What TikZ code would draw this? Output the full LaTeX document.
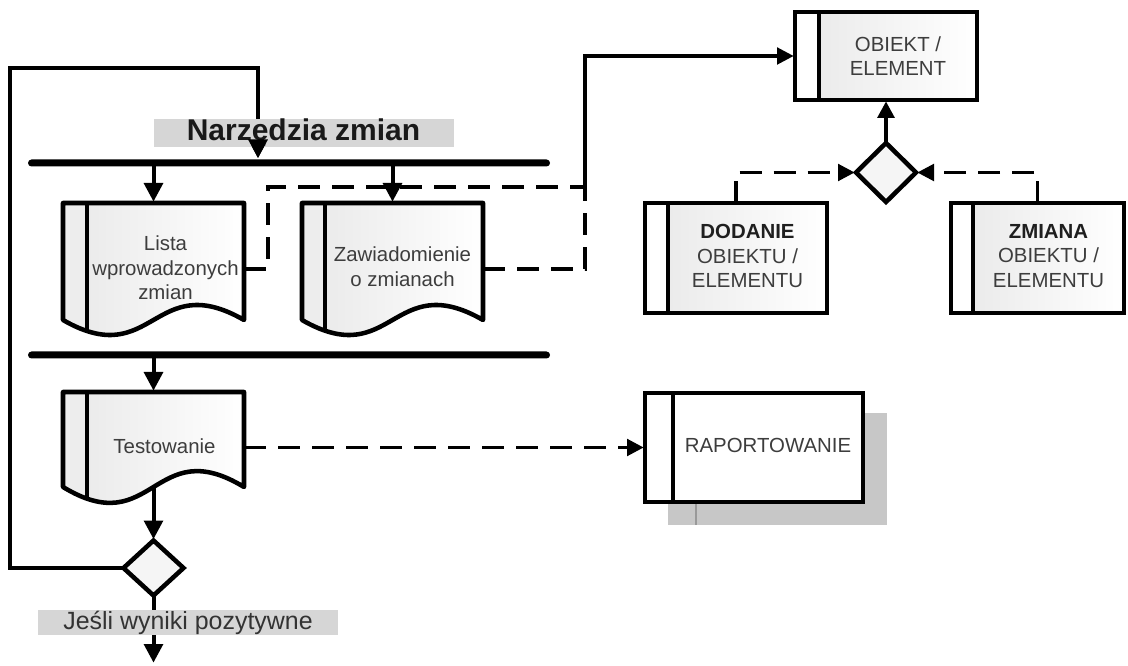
\documentclass[tikz,border=0pt]{standalone}
\usepackage{fontspec}
\setmainfont{Liberation Sans}
\usetikzlibrary{shapes.geometric,arrows.meta,calc}

% Document symbol with a wavy lower edge and a left stripe:
% #1 node, #2 midline of the wave below the top edge, #3 control offset, #4 stripe width
\newcommand\docshape[4]{%
  \begin{scope}
    \clip (#1.north west) -- (#1.north east) -- ($(#1.north east)+(0,#2)$)
      .. controls ($(#1.north)+(0,#2-#3)$) and ($(#1.north)+(0,#2+#3)$)
      .. ($(#1.north west)+(0,#2)$) -- cycle;
    \shade[left color=black!9, right color=white] (#1.north west) rectangle (#1.south east);
    \fill[black!7] (#1.north west) rectangle ($(#1.south west)+(#4,0)$);
    \draw[border] ($(#1.north west)+(#4,0)$) -- ($(#1.south west)+(#4,0)$);
  \end{scope}
  \draw[border, line join=round] (#1.north west) -- (#1.north east) -- ($(#1.north east)+(0,#2)$)
      .. controls ($(#1.north)+(0,#2-#3)$) and ($(#1.north)+(0,#2+#3)$)
      .. ($(#1.north west)+(0,#2)$) -- cycle;
}

% Left stripe of a process box: #1 node, #2 stripe width
\newcommand\boxstripe[2]{%
  \fill[white] ($(#1.north west)+(1.7pt,-1.7pt)$) rectangle ($(#1.south west)+(#2,0)$);
  \draw[border] ($(#1.north west)+(#2,0)$) -- ($(#1.south west)+(#2,0)$);
  \draw[border] (#1.north west) rectangle (#1.south east);
}

\begin{document}
\begin{tikzpicture}[x=0.75pt,y=-0.75pt,
  border/.style={line width=3.4pt},
  boxtxt/.style={font=\fontsize{15.3}{18.5}\selectfont, text=black!76, align=center, inner sep=0},
  docnode/.style={inner sep=0, outer sep=0, minimum width=181*0.75pt},
  procbox/.style={draw, line width=3.4pt, inner sep=0, outer sep=0, left color=black!9, right color=white},
  bar/.style={fill=black, rounded corners=2.6pt, inner sep=0, outer sep=0, minimum width=522*0.75pt, minimum height=7*0.75pt},
  decision/.style={diamond, draw, line width=3.4pt, fill=black!4, inner sep=0, outer sep=0},
  flowline/.style={line width=3pt},
  bigtip/.style={-{Triangle[length=14pt,width=14pt]}, shorten >=1pt},
  smalltip/.style={-{Triangle[length=12.5pt,width=12.5pt]}, shorten >=1pt},
  dashline/.style={line width=2.4pt, dash pattern=on 16.5pt off 9pt},
  caption/.style={fill=black!16, inner sep=0}
]
\useasboundingbox (0,0) rectangle (1128,666);

% ---------- bars ----------
\node[bar] (bar1) at (289,163) {};
\node[bar] (bar2) at (289,355) {};

% ---------- documents ----------
\node[docnode, minimum height=132*0.75pt] (lista) at (153.5,269) {};
\docshape{lista}{117}{52}{24}
\node[boxtxt] (lista-t) at ($(lista.center)+(12,-1)$) {Lista\\wprowadzonych\\zmian};

\node[docnode, minimum height=132*0.75pt] (zaw) at (392.5,269) {};
\docshape{zaw}{117}{52}{23}
\node[boxtxt] (zaw-t) at ($(zaw.center)+(10,-2)$) {Zawiadomienie\\o zmianach};

\node[docnode, minimum height=111*0.75pt] (test) at (153.5,447.5) {};
\docshape{test}{95}{55}{24}
\node[boxtxt] (test-t) at ($(test.center)+(11,-1)$) {Testowanie};

% ---------- process boxes ----------
\node[procbox, minimum width=182*0.75pt, minimum height=88*0.75pt] (obiekt) at (886,56) {};
\boxstripe{obiekt}{24}
\node[boxtxt] (obiekt-t) at ($(obiekt.center)+(12,0)$) {OBIEKT /\\ELEMENT};

\node[procbox, minimum width=182*0.75pt, minimum height=110*0.75pt] (dodanie) at (736,258) {};
\boxstripe{dodanie}{23}
\node[boxtxt] (dodanie-t) at ($(dodanie.center)+(11.5,-2)$) {\textbf{\color{black!88}DODANIE}\\OBIEKTU /\\ELEMENTU};

\node[procbox, minimum width=173*0.75pt, minimum height=110*0.75pt] (zmiana) at (1037.5,258) {};
\boxstripe{zmiana}{22}
\node[boxtxt] (zmiana-t) at ($(zmiana.center)+(11,-2)$) {\textbf{\color{black!88}ZMIANA}\\OBIEKTU /\\ELEMENTU};

% report box with its drop shadow
\fill[black!22] (668,413) rectangle (887,525);
\draw[black!40, line width=2pt] (696,502) -- (696,525);
\node[draw, line width=3.4pt, fill=white, inner sep=0, outer sep=0,
      minimum width=218*0.75pt, minimum height=109*0.75pt] (raport) at (754,447.5) {};
\draw[border] ($(raport.north west)+(28,0)$) -- ($(raport.south west)+(28,0)$);
\node[boxtxt] (raport-t) at ($(raport.center)+(14,-2)$) {RAPORTOWANIE};

% ---------- decisions ----------
\node[decision, minimum width=60*0.75pt, minimum height=59*0.75pt] (diamT) at (886,172.5) {};
\node[decision, minimum width=60*0.75pt, minimum height=55*0.75pt] (diamB) at (153.5,568) {};

% ---------- solid flow ----------
\coordinate (loopA) at (10,68);
\coordinate (loopB) at (258,68);
\draw[flowline, bigtip] (diamB.west) -| (loopA) -- (loopB) -- (loopB |- bar1.north);

\draw[flowline, bigtip] (lista.north |- bar1.south) -- (lista.north);
\draw[flowline, bigtip] (zaw.north |- bar1.south) -- (zaw.north);
\draw[flowline, bigtip] (test.north |- bar2.south) -- (test.north);
\draw[flowline, bigtip] ($(test.south)+(0,-16)$) -- (diamB.north);
\coordinate (exit) at (153.5,664);
\draw[flowline, bigtip] (diamB.south) -- (exit);
\draw[flowline, smalltip] (diamT.north) -- (diamT.north |- obiekt.south);

% ---------- dashed relations ----------
\coordinate (j1) at (268,187);
\coordinate (j2) at (585,187);
\draw[dashline] (lista.east) -| (j1) -- (j2);
\draw[dashline] (zaw.east) -| (j2);
\draw[line width=2.4pt, smalltip] (j2) |- (obiekt.west);
\draw[dashline, smalltip] (test.east) -- (raport.west);
\draw[dashline, smalltip] (dodanie.north) |- (diamT.west);
\draw[dashline, smalltip] (zmiana.north) |- (diamT.east);

% ---------- captions ----------
\node[caption, minimum width=300*0.75pt, minimum height=28*0.75pt,
      font=\bfseries\fontsize{22.5}{24}\selectfont, text=black!90] (narz) at (303.5,133) {Narzędzia zmian};
\draw[flowline, bigtip] (narz.south -| loopB) -- (loopB |- bar1.north);
\node[caption, minimum width=300*0.75pt, minimum height=25*0.75pt,
      font=\fontsize{18.7}{20}\selectfont, text=black!80] (jesli) at (188,622.5) {Jeśli wyniki pozytywne};
\end{tikzpicture}
\end{document}
